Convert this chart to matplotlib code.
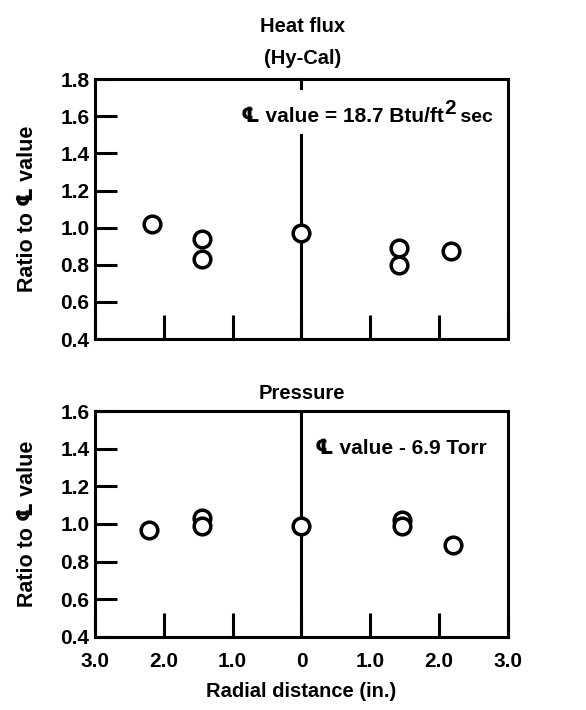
import matplotlib
matplotlib.use("Agg")
import matplotlib.pyplot as plt

plt.rcParams['font.family'] = ['Liberation Sans', 'DejaVu Sans']
plt.rcParams['font.weight'] = 'bold'

# heat flux (Hy-Cal), ratio to centreline value
heat_x = [-2.17, -1.45, -1.45, 0.0, 1.42, 1.42, 2.17]
heat_y = [1.02, 0.94, 0.83, 0.97, 0.89, 0.80, 0.875]

# pressure, ratio to centreline value
pres_x = [-2.22, -1.44, -1.44, 0.0, 1.46, 1.46, 2.2]
pres_y = [0.97, 1.03, 0.99, 0.99, 1.02, 0.99, 0.89]

x_ticks = [-3, -2, -1, 0, 1, 2, 3]
x_labels = ['3.0', '2.0', '1.0', '0', '1.0', '2.0', '3.0']

CL = '\u2104'
LW = 2.2

fig = plt.figure(figsize=(5.86, 7.10), dpi=100)
ax1 = fig.add_axes([0.162, 0.5225, 0.705, 0.366])
ax2 = fig.add_axes([0.162, 0.103, 0.705, 0.318])


def style(ax, ymax, show_xlabels):
    ax.set_xlim(-3, 3)
    ax.set_ylim(0.4, ymax)
    for s in ax.spines.values():
        s.set_linewidth(LW)
    yt = [round(0.4 + 0.2 * i, 1) for i in range(int(round((ymax - 0.4) / 0.2)) + 1)]
    ax.set_yticks(yt)
    ax.set_yticklabels(['%.1f' % v for v in yt], fontsize=15, fontweight='bold')
    ax.set_xticks(x_ticks)
    if show_xlabels:
        ax.set_xticklabels(x_labels, fontsize=15, fontweight='bold')
    else:
        ax.set_xticklabels([])
    ax.tick_params(axis='y', direction='in', length=16, width=LW, pad=4)
    ax.tick_params(axis='x', direction='in', length=17, width=LW, pad=11)
    ax.set_ylabel('Ratio to ' + CL + ' value', fontsize=15.5, fontweight='bold', labelpad=16)


style(ax1, 1.8, False)
style(ax2, 1.6, True)

# centre lines
ax1.plot([0, 0], [0.4, 1.5], color='black', lw=LW, zorder=2)
ax1.plot([0, 0], [1.75, 1.8], color='black', lw=LW, zorder=2, clip_on=False)
ax2.axvline(0, color='black', lw=LW, zorder=2)

for ax, xs, ys in [(ax1, heat_x, heat_y), (ax2, pres_x, pres_y)]:
    ax.plot(xs, ys, 'o', ls='none', ms=12, mfc='white', mec='black', mew=2.5, zorder=3)

t1 = ax1.text(-0.88, 1.6, CL + ' value = 18.7 Btu/ft', fontsize=15,
              fontweight='bold', va='center', ha='left')
t2 = ax1.annotate('2', xy=(1, 0.42), xycoords=t1, fontsize=15, fontweight='bold',
                  va='bottom', ha='left')
ax1.annotate(' sec', xy=(1, 0), xycoords=(t2, t1), fontsize=14, fontweight='bold',
             va='bottom', ha='left')
ax2.text(0.2, 1.4, CL + ' value - 6.9 Torr', fontsize=15,
         fontweight='bold', va='center', ha='left')

fig.text(0.517, 0.962, 'Heat flux', fontsize=14.5, fontweight='bold', ha='center', va='center')
fig.text(0.517, 0.917, '(Hy-Cal)', fontsize=14.5, fontweight='bold', ha='center', va='center')
ax2.set_title('Pressure', fontsize=14.5, fontweight='bold', pad=9)
ax2.set_xlabel('Radial distance (in.)', fontsize=14.5, fontweight='bold', labelpad=8)

fig.savefig('out.png', dpi=100)
